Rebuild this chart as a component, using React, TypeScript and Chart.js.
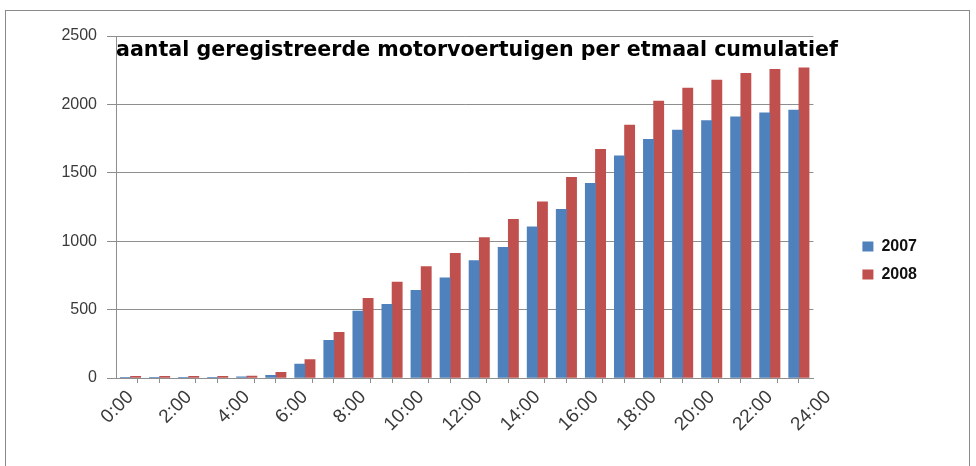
import React, { useEffect, useRef } from 'react';
import { Chart, registerables } from 'chart.js';

Chart.register(...registerables);

// hourly slots (one bar group per hour)
const categories = [
  '0:00', '1:00', '2:00', '3:00', '4:00', '5:00', '6:00', '7:00',
  '8:00', '9:00', '10:00', '11:00', '12:00', '13:00', '14:00', '15:00',
  '16:00', '17:00', '18:00', '19:00', '20:00', '21:00', '22:00', '23:00',
];

// x tick labels (every two hours)
const tickLabels = [
  '0:00', '2:00', '4:00', '6:00', '8:00', '10:00', '12:00',
  '14:00', '16:00', '18:00', '20:00', '22:00', '24:00',
];

const seriesNames = ['2007', '2008'];

const values2007 = [
  4, 5, 5, 5, 8, 20, 102, 275, 490, 538, 641, 733,
  858, 955, 1106, 1233, 1423, 1625, 1745, 1813, 1881, 1910, 1939, 1959,
];

const values2008 = [
  12, 12, 12, 12, 14, 42, 134, 334, 582, 702, 814, 911,
  1026, 1160, 1287, 1467, 1672, 1849, 2025, 2120, 2178, 2227, 2257, 2268,
];

const yTicks = [0, 500, 1000, 1500, 2000, 2500];

const titleText = 'aantal geregistreerde motorvoertuigen per etmaal cumulatief';

const GRID = '#8e8e8e';
const TEXT = '#3a3a3a';
const BLUE = '#4F81BD';
const RED = '#C0504D';

// lets the title (which sits inside the plot area) run past the plot's right edge
const widenTitle = {
  id: 'widenTitle',
  afterLayout(chart: any) {
    const tb = chart.titleBlock;
    if (tb) tb.right = chart.width;
  },
};

export default function App() {
  const canvasRef = useRef<HTMLCanvasElement | null>(null);

  useEffect(() => {
    const canvas = canvasRef.current;
    if (!canvas) return;

    const toPoints = (vals: number[]) => vals.map((v, i) => ({ x: i + 0.5, y: v }));

    const chart = new Chart(canvas, {
      type: 'bar',
      data: {
        datasets: [
          {
            label: seriesNames[0],
            data: toPoints(values2007),
            backgroundColor: BLUE,
            borderWidth: 0,
            barThickness: 10.2,
          },
          {
            label: seriesNames[1],
            data: toPoints(values2008),
            backgroundColor: RED,
            borderWidth: 0,
            barThickness: 10.2,
          },
        ],
      },
      plugins: [widenTitle],
      options: {
        responsive: false,
        animation: false,
        events: [],
        devicePixelRatio: 1,
        layout: { padding: { left: 0, right: 49, top: 0, bottom: 0 } },
        plugins: {
          tooltip: { enabled: false },
          title: {
            display: true,
            text: titleText,
            align: 'start',
            position: 'top',
            fullSize: false,
            color: '#000',
            font: { family: 'DejaVu Sans', weight: 'bold', size: 20.6 },
            padding: { top: 38, bottom: -26.7 },
          },
          legend: {
            display: true,
            position: 'right',
            align: 'center',
            title: { display: true, text: '', padding: { top: 43, bottom: 0 }, font: { size: 10 } },
            labels: {
              boxWidth: 11,
              boxHeight: 10,
              padding: 12,
              color: '#111',
              font: { family: 'Liberation Sans', weight: 'bold', size: 16 },
            },
          },
        },
        scales: {
          x: {
            type: 'linear',
            min: 0,
            max: categories.length,
            offset: false,
            afterBuildTicks: (scale: any) => {
              const t: { value: number }[] = [];
              for (let i = 0; i <= categories.length; i++) t.push({ value: i });
              tickLabels.forEach((_, k) => t.push({ value: 2 * k + 0.5 }));
              t.sort((a, b) => a.value - b.value);
              scale.ticks = t;
            },
            afterFit: (scale: any) => {
              scale.height = 88;
            },
            ticks: {
              autoSkip: false,
              minRotation: 45,
              maxRotation: 45,
              padding: 3,
              color: TEXT,
              font: { family: 'Liberation Sans', size: 19 },
              callback: (value: any) => {
                const v = Number(value);
                if (Number.isInteger(v)) return '';
                const k = Math.round((v - 0.5) / 2);
                return tickLabels[k] ?? '';
              },
            },
            grid: {
              drawOnChartArea: false,
              drawTicks: true,
              tickLength: 5,
              color: (ctx: any) =>
                ctx.tick && Number.isInteger(ctx.tick.value) ? GRID : 'rgba(0,0,0,0)',
            },
            border: { display: true, color: GRID },
          },
          y: {
            type: 'linear',
            min: 0,
            max: 2500,
            afterBuildTicks: (scale: any) => {
              scale.ticks = yTicks.map((v) => ({ value: v }));
            },
            afterFit: (scale: any) => {
              scale.width = 116;
            },
            ticks: {
              padding: 10,
              color: TEXT,
              font: { family: 'Liberation Sans', size: 16 },
              callback: (value: any) => String(value),
            },
            grid: { color: GRID, tickLength: 9 },
            border: { display: true, color: GRID },
          },
          spacer: {
            type: 'linear',
            position: 'right',
            display: true,
            ticks: { display: false },
            grid: { display: false },
            border: { display: false },
            afterFit: (scale: any) => {
              scale.width = 37;
            },
          },
        },
      } as any,
    });

    return () => {
      chart.destroy();
    };
  }, []);

  return (
    <div
      style={{
        position: 'fixed',
        left: 0,
        top: 0,
        width: 976,
        height: 466,
        background: '#fff',
        overflow: 'hidden',
      }}
    >
      <div
        style={{
          position: 'absolute',
          left: 5,
          top: 10,
          width: 965,
          height: 470,
          border: '1px solid #8a8a8a',
          boxSizing: 'border-box',
        }}
      />
      <canvas
        ref={canvasRef}
        width={976}
        height={466}
        style={{ position: 'absolute', left: 0, top: 0, width: 976, height: 466 }}
      />
    </div>
  );
}
